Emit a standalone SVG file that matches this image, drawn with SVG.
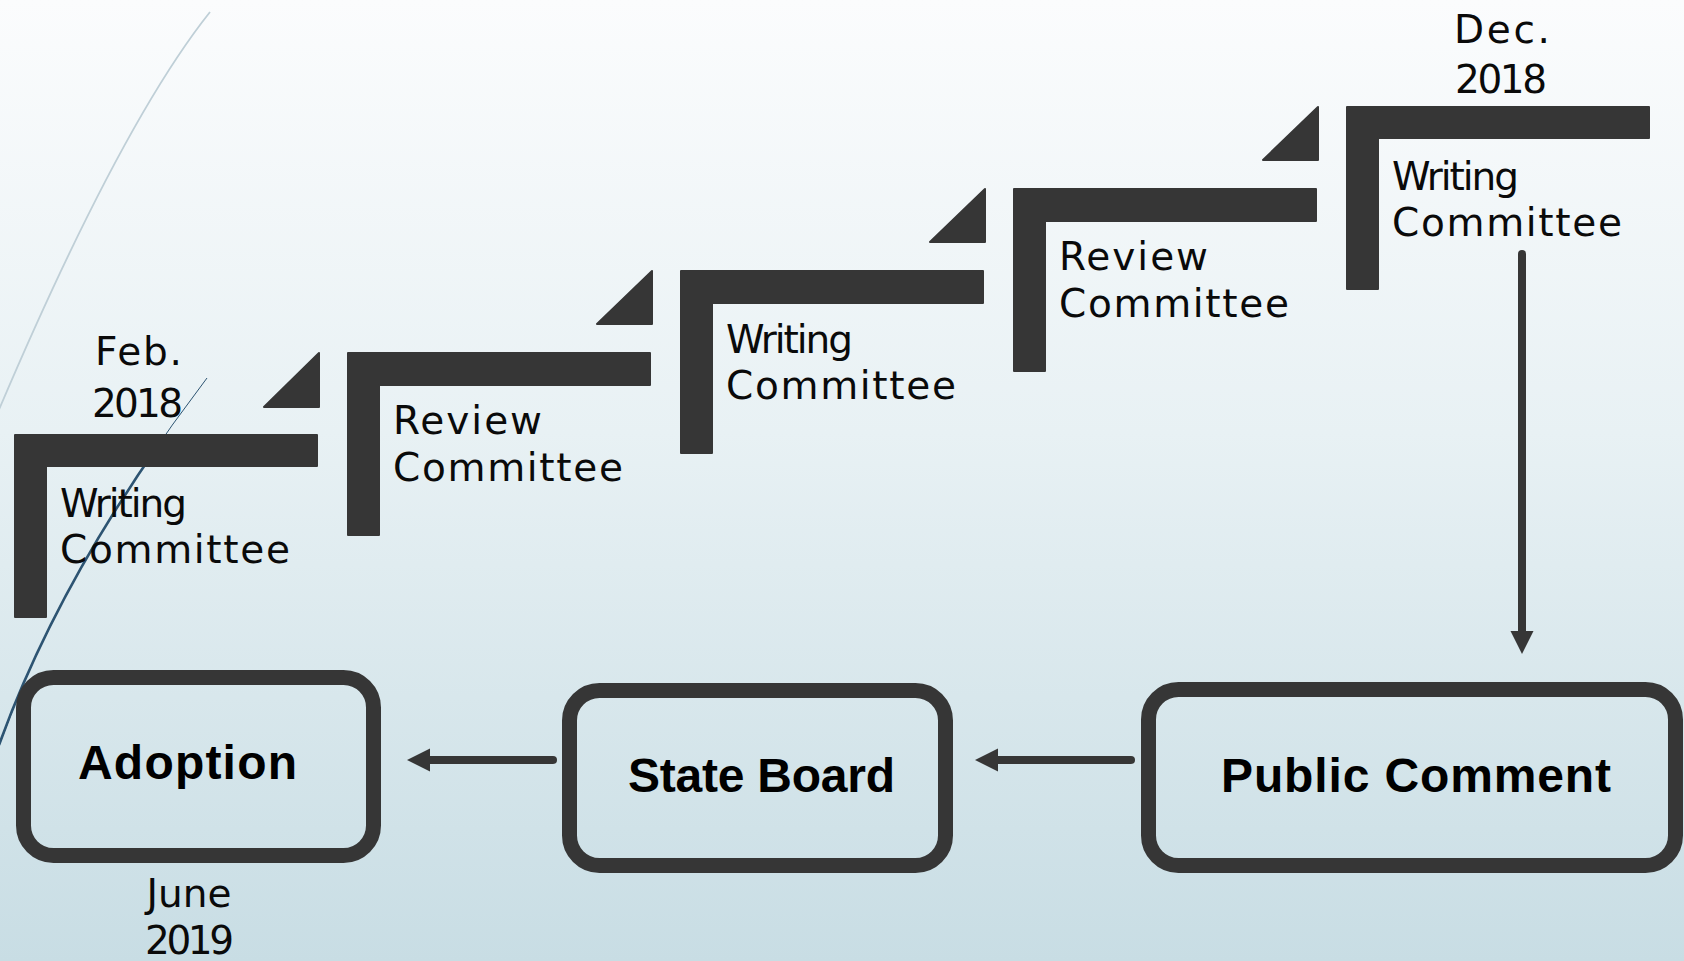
<svg xmlns="http://www.w3.org/2000/svg" width="1684" height="961" viewBox="0 0 1684 961">
  <defs>
    <linearGradient id="bg" x1="0" y1="0" x2="0" y2="1">
      <stop offset="0" stop-color="#fbfcfd"/>
      <stop offset="0.45" stop-color="#e8f1f4"/>
      <stop offset="1" stop-color="#c8dde4"/>
    </linearGradient>
    <marker id="head" markerUnits="userSpaceOnUse" markerWidth="24" markerHeight="24" viewBox="0 0 24 24" refX="1" refY="12" orient="auto">
      <path d="M0,0.5 L23,12 L0,23.5 Z" fill="#363636"/>
    </marker>
    <style>
      .bar { fill: #363636; stroke: #363636; stroke-width: 2; stroke-linejoin: round; }
      .step { font-family: "DejaVu Sans", "Liberation Sans", sans-serif; font-size: 39px; fill: #0a0a0a; }
      .date { font-family: "DejaVu Sans", "Liberation Sans", sans-serif; font-size: 39px; fill: #0a0a0a; }
      .box { fill: none; stroke: #363636; stroke-width: 15; }
      .title { font-family: "Liberation Sans", Arial, sans-serif; font-weight: bold; font-size: 48px; fill: #000; }
      .link { fill: none; stroke: #363636; stroke-width: 8; stroke-linecap: round; }
    </style>
  </defs>

  <!-- background -->
  <rect x="0" y="0" width="1684" height="961" fill="url(#bg)"/>

  <!-- decorative swoosh lines -->
  <g id="decor" fill="none">
    <path d="M210,12 Q120,125 -2,412" stroke="#bfcfd7" stroke-width="1.8"/>
    <path d="M207,378 Q63,567 0,743" stroke="#2d5472" stroke-width="1"/>
    <path d="M162,440 Q52.6,596 -1,745" stroke="#2d5472" stroke-width="2.6"/>
  </g>

  <!-- stair steps -->
  <g id="step1">
    <path class="bar" d="M264,407 L319,353 L319,407 Z"/>
    <path class="bar" d="M15,435 H317 V466 H46 V617 H15 Z"/>
    <text class="date" x="95" y="365" textLength="87">Feb.</text>
    <text class="date" x="92" y="417" textLength="91">2018</text>
    <text class="step" x="60" y="517" textLength="127">Writing</text>
    <text class="step" x="60" y="563" textLength="230">Committee</text>
  </g>
  <g id="step2">
    <path class="bar" d="M597,324 L652,271 L652,324 Z"/>
    <path class="bar" d="M348,353 H650 V385 H379 V535 H348 Z"/>
    <text class="step" x="393" y="434" textLength="149">Review</text>
    <text class="step" x="393" y="481" textLength="230">Committee</text>
  </g>
  <g id="step3">
    <path class="bar" d="M930,242 L985,189 L985,242 Z"/>
    <path class="bar" d="M681,271 H983 V303 H712 V453 H681 Z"/>
    <text class="step" x="726" y="353" textLength="127">Writing</text>
    <text class="step" x="726" y="399" textLength="230">Committee</text>
  </g>
  <g id="step4">
    <path class="bar" d="M1263,160 L1318,107 L1318,160 Z"/>
    <path class="bar" d="M1014,189 H1316 V221 H1045 V371 H1014 Z"/>
    <text class="step" x="1059" y="270" textLength="149">Review</text>
    <text class="step" x="1059" y="317" textLength="230">Committee</text>
  </g>
  <g id="step5">
    <path class="bar" d="M1347,107 H1649 V138 H1378 V289 H1347 Z"/>
    <text class="date" x="1454" y="43" textLength="96">Dec.</text>
    <text class="date" x="1455" y="93" textLength="92">2018</text>
    <text class="step" x="1392" y="190" textLength="127">Writing</text>
    <text class="step" x="1392" y="236" textLength="230">Committee</text>
  </g>

  <!-- final stages -->
  <g id="public-comment">
    <rect class="box" x="1148.5" y="689.5" width="527" height="176" rx="30"/>
    <text class="title" x="1221" y="792" textLength="390">Public Comment</text>
  </g>
  <g id="state-board">
    <rect class="box" x="569.5" y="690.5" width="376" height="175" rx="30"/>
    <text class="title" x="628" y="792" textLength="267">State Board</text>
  </g>
  <g id="adoption">
    <rect class="box" x="23.5" y="677.5" width="350" height="178" rx="30"/>
    <text class="title" x="78" y="779" textLength="219">Adoption</text>
    <text class="date" x="189" y="907" text-anchor="middle">June</text>
    <text class="date" x="145" y="954" textLength="89">2019</text>
  </g>

  <!-- connectors -->
  <g id="connectors">
    <line class="link" x1="1522" y1="254" x2="1522" y2="632" marker-end="url(#head)"/>
    <line class="link" x1="1131" y1="760" x2="997" y2="760" marker-end="url(#head)"/>
    <line class="link" x1="553" y1="760" x2="429" y2="760" marker-end="url(#head)"/>
  </g>
</svg>
